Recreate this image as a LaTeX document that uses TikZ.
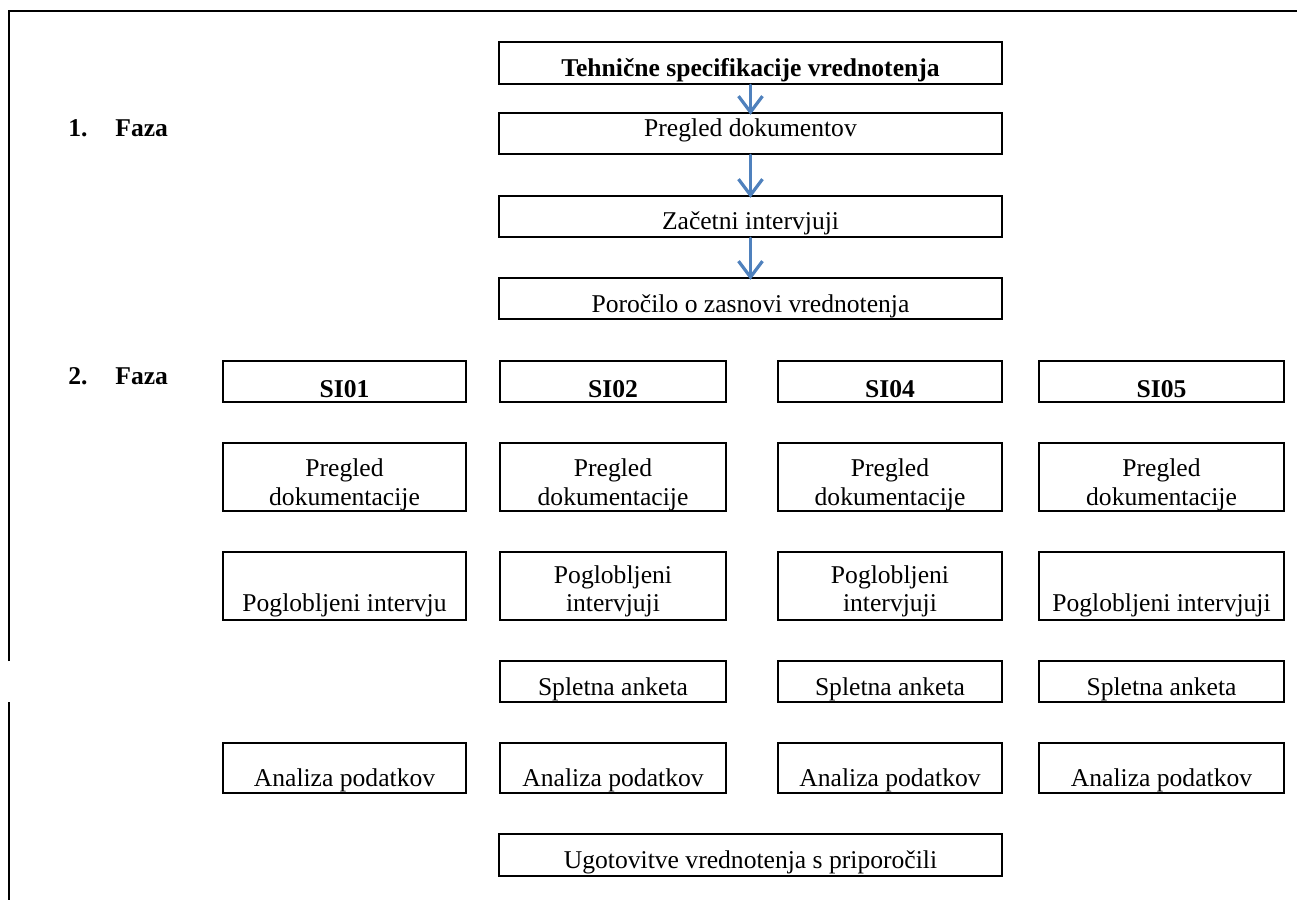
\documentclass[tikz,border=0pt,12pt]{standalone}
\usepackage{fontspec}
\setmainfont{Liberation Serif}
\usetikzlibrary{arrows.meta}
\definecolor{arrowblue}{RGB}{79,129,189}
\newcommand{\fz}{\fontsize{12.8}{14.2}\selectfont}

\begin{document}
\begin{tikzpicture}[x=0.5pt,y=-0.5pt, font=\fz,
	box/.style={draw, line width=1.2pt, inner sep=0pt, align=center},
	bold/.style={font=\fz\bfseries},
	row/.style 2 args={text height=#1, text depth=#2},
	wA/.style={minimum width=251.5pt},
	w1/.style={minimum width=121.5pt},
	w2/.style={minimum width=113pt},
	w3/.style={minimum width=112pt},
	w4/.style={minimum width=122.5pt},
	flow/.style={-{Straight Barb[length=8pt,width=12pt]}, arrowblue, line width=1.6pt, line cap=round, shorten >=-1.5pt}]
	\useasboundingbox (0,0) rectangle (1297,900);
	
	% frame
	\draw[line width=1.4pt] (9,661) -- (9,11) -- (1297,11);
	\draw[line width=1.4pt] (9,702) -- (9,900);
	
	% phases
	\node[anchor=base west, inner sep=0pt, bold] (f1) at (68,136) {\makebox[23.5pt][l]{1.}Faza};
	\node[anchor=base west, inner sep=0pt, bold] (f2) at (68,384) {\makebox[23.5pt][l]{2.}Faza};
	
	% 1. faza
	\node[box, wA, row={17.35pt}{3.65pt}, bold] (tsv) at (750.5,63) {Tehnične specifikacije vrednotenja};
	\node[box, wA, row={11.5pt}{9pt}] (pd) at (750.5,133.5) {Pregled dokumentov};
	\node[box, wA, row={16.65pt}{3.85pt}] (zi) at (750.5,216.5) {Začetni intervjuji};
	\node[box, wA, row={17.35pt}{3.15pt}] (pzv) at (750.5,298.5) {Poročilo o zasnovi vrednotenja};
	
	\draw[flow] (tsv.south) -- (pd.north);
	\draw[flow] (pd.south) -- (zi.north);
	\draw[flow] (zi.south) -- (pzv.north);
	
	% 2. faza
	\node[box, w1, row={18pt}{2.5pt}, bold] (si1) at (344.5,381.5) {SI01};
	\node[box, w2, row={18pt}{2.5pt}, bold] (si2) at (613,381.5) {SI02};
	\node[box, w3, row={18pt}{2.5pt}, bold] (si4) at (890,381.5) {SI04};
	\node[box, w4, row={18pt}{2.5pt}, bold] (si5) at (1161.5,381.5) {SI05};
	
	\node[box, w1, row={31pt}{3pt}] (pd1) at (344.5,477) {Pregled\\dokumentacije};
	\node[box, w2, row={31pt}{3pt}] (pd2) at (613,477) {Pregled\\dokumentacije};
	\node[box, w3, row={31pt}{3pt}] (pd4) at (890,477) {Pregled\\dokumentacije};
	\node[box, w4, row={31pt}{3pt}] (pd5) at (1161.5,477) {Pregled\\dokumentacije};
	
	\node[box, w1, row={29.85pt}{4.15pt}] (pi1) at (344.5,586) {Poglobljeni intervju};
	\node[box, w2, row={29.85pt}{4.15pt}] (pi2) at (613,586) {Poglobljeni\\intervjuji};
	\node[box, w3, row={29.85pt}{4.15pt}] (pi4) at (890,586) {Poglobljeni\\intervjuji};
	\node[box, w4, row={29.85pt}{4.15pt}] (pi5) at (1161.5,586) {Poglobljeni intervjuji};
	
	\node[box, w2, row={17pt}{3.5pt}] (sa2) at (613,681.5) {Spletna anketa};
	\node[box, w3, row={17pt}{3.5pt}] (sa4) at (890,681.5) {Spletna anketa};
	\node[box, w4, row={17pt}{3.5pt}] (sa5) at (1161.5,681.5) {Spletna anketa};
	
	\node[box, w1, row={21.85pt}{3.15pt}] (ap1) at (344.5,768) {Analiza podatkov};
	\node[box, w2, row={21.85pt}{3.15pt}] (ap2) at (613,768) {Analiza podatkov};
	\node[box, w3, row={21.85pt}{3.15pt}] (ap4) at (890,768) {Analiza podatkov};
	\node[box, w4, row={21.85pt}{3.15pt}] (ap5) at (1161.5,768) {Analiza podatkov};
	
	\node[box, wA, row={17pt}{4pt}] (uvp) at (750.5,855) {Ugotovitve vrednotenja s priporočili};
\end{tikzpicture}
\end{document}
